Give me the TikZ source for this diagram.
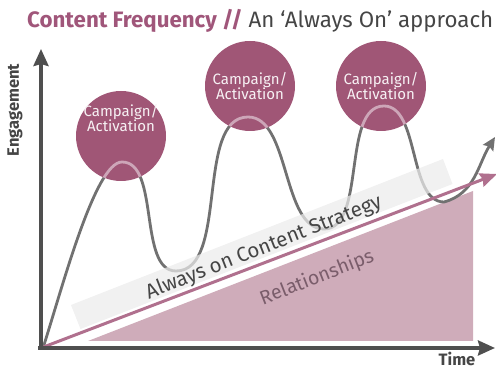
\documentclass[tikz,border=0pt]{standalone}
\usepackage{fontspec}
\setmainfont{Fira Sans}
\usepackage{xcolor}
\usetikzlibrary{arrows.meta, positioning}

\definecolor{axisgray}{HTML}{4F4F4F}
\definecolor{wavegray}{HTML}{717171}
\definecolor{wavelight}{HTML}{CDA6B8}
\definecolor{campcolor}{HTML}{A05676}
\definecolor{purpleline}{HTML}{B0708E}
\definecolor{relfill}{HTML}{CFACBA}
\definecolor{bandfill}{HTML}{EBEBEB}
\definecolor{titlepurple}{HTML}{A0567A}
\definecolor{textdark}{HTML}{454545}
\definecolor{reltext}{HTML}{7A5D6B}

\newcommand{\wavepath}{(w0) .. controls (62,80) and (95,207) .. (w1)
  to[out=0,in=180,looseness=0.8] (w2)
  to[out=0,in=180,looseness=0.8] (w3)
  to[out=0,in=180,looseness=0.8] (w4)
  to[out=0,in=180,looseness=0.8] (w5)
  to[out=0,in=180,looseness=0.8] (w6)
  to[out=15,in=238] (w7)}

\begin{document}
\begin{tikzpicture}[x=1pt, y=1pt,
  axis/.style={draw=axisgray, line width=3.5pt, -{Stealth[length=17pt, width=15pt, inset=2pt]}},
  wave/.style={draw=wavegray, line width=2.8pt},
  campaign/.style={circle, fill=campcolor, minimum size=90pt, inner sep=0pt},
  camptext/.style={text=white!92!campcolor, align=center, font=\fontsize{15}{15}\selectfont},
  axislabel/.style={text=textdark, font=\bfseries\fontsize{16.5}{18}\selectfont},
  striptext/.style={text=textdark, rotate=21.4, font=\fontsize{20.5}{22}\selectfont},
]
\useasboundingbox (0,0) rectangle (496,369);

% title
\node[anchor=base west, inner sep=0pt, font=\fontsize{22.3}{24}\selectfont] (title) at (27,341)
  {\textcolor{titlepurple}{\bfseries Content Frequency //} \textcolor{textdark}{An ‘Always On’ approach}};

% points
\coordinate (O) at (41,21);
\coordinate (ytip) at (41,320);
\coordinate (xtip) at (495,21);
\coordinate (ptip) at (497,195);
\coordinate (w0) at (43,21);
\coordinate (w1) at (122,207);
\coordinate (w2) at (176,98);
\coordinate (w3) at (248,252);
\coordinate (w4) at (324,140);
\coordinate (w5) at (384,263);
\coordinate (w6) at (444,167);
\coordinate (w7) at (495,232);

% relationships
\fill[relfill] (88,28) -- (473,28) -- (473,178) -- cycle;

% wave
\draw[wave, -{Stealth[length=13pt, width=12pt, inset=2pt]}] \wavepath;

% always on strip
\fill[bandfill, opacity=0.72] (71,64) -- (443,210) -- (452.5,185) -- (80.5,40) -- cycle;
\draw[purpleline, line width=3pt, -{Stealth[length=17pt, width=14pt, inset=2pt]}] (O) -- (ptip);

% campaigns
\node[campaign] (campA) at (121,233) {};
\node[campaign] (campB) at (250,283) {};
\node[campaign] (campC) at (381,283) {};
\begin{scope}
  \clip (campA.center) circle (45) (campB.center) circle (45) (campC.center) circle (45);
  \draw[wave, draw=wavelight] \wavepath;
\end{scope}
\node[camptext] (txtA) at ([yshift=18pt]campA.center) {Campaign/\\Activation};
\node[camptext] (txtB) at (campB.center) {Campaign/\\Activation};
\node[camptext] (txtC) at (campC.center) {Campaign/\\Activation};

% axes
\draw[axis] (41,19) -- (ytip);
\draw[axis] (38,21) -- (xtip);
\node[axislabel, rotate=90] (eng) at (15,259) {Engagement};
\node[axislabel, anchor=base, inner sep=0pt] (time) at (457,3) {Time};

% strip labels
\node[striptext] (always) at (264,121) {Always on Content Strategy};
\node[striptext, text=reltext, font=\fontsize{19.5}{21}\selectfont] (rel) at (317,91) {Relationships};
\end{tikzpicture}
\end{document}
